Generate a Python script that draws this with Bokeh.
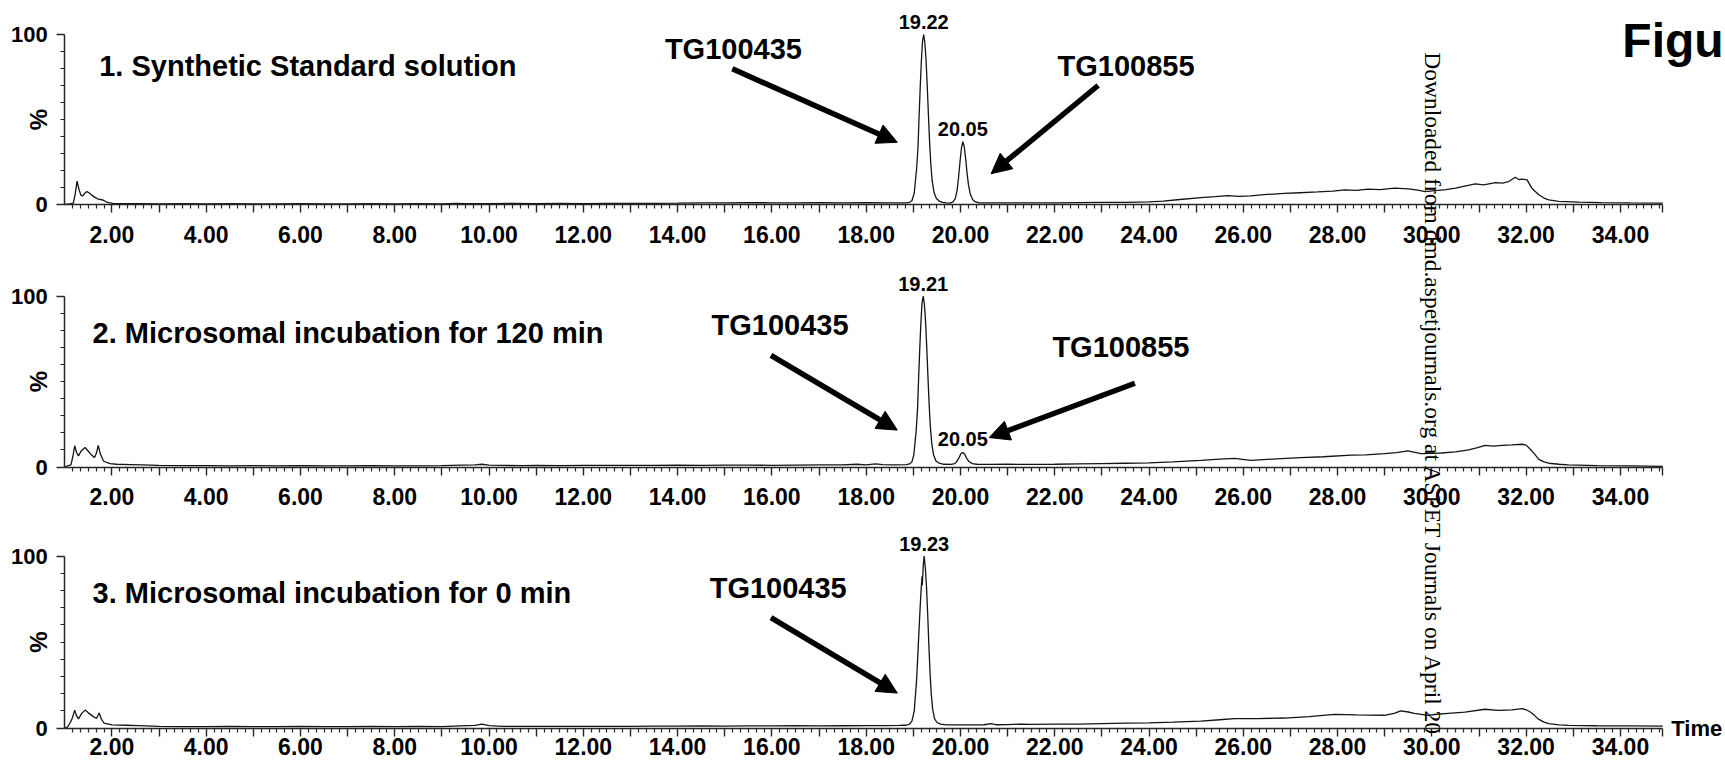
from math import pi
from bokeh.plotting import figure
from bokeh.models import (Range1d, FixedTicker, CustomJSTickFormatter, Label, Arrow, NormalHead,
                          LinearAxis)
from bokeh.embed import file_html
from bokeh.resources import INLINE

# ---------------- data ----------------
panel_titles = ["1. Synthetic Standard solution",
                "2. Microsomal incubation for 120 min",
                "3. Microsomal incubation for 0 min"]
compound_names = ["TG100435", "TG100855"]
y_axis_label = "%"
x_axis_label = "Time"
figure_label = "Figu"
watermark = "Downloaded from dmd.aspetjournals.org at ASPET Journals on April 20"

# panel 1 : synthetic standard
time_1 = [1.00, 1.10, 1.18, 1.22, 1.26, 1.30, 1.34, 1.38, 1.43, 1.47, 1.52, 1.57, 1.64, 1.71, 1.78, 1.82, 1.88, 1.93, 2.02,
          2.2, 2.6, 3.0, 3.5, 4.0, 4.5, 5.0, 5.5, 6.0, 6.5, 7.0, 7.5, 8.0, 8.5, 9.0, 9.3, 9.5, 10.0, 10.5, 11.0, 11.5,
          12.0, 12.5, 13.0, 13.5, 14.0, 14.5, 15.0, 15.5, 16.0, 16.5, 17.0, 17.5, 18.0, 18.5,
          18.85, 18.92, 18.97, 19.02, 19.07, 19.10, 19.12, 19.145, 19.17, 19.195, 19.22, 19.245, 19.27, 19.295, 19.32,
          19.345, 19.37, 19.40, 19.44, 19.49, 19.55, 19.62, 19.70, 19.78, 19.84, 19.89, 19.93, 19.96, 19.99, 20.02,
          20.05, 20.08, 20.11, 20.14, 20.17, 20.21, 20.26, 20.32, 20.40,
          20.6, 21.0, 21.5, 22.0, 22.5, 23.0, 23.5, 24.0, 24.3, 24.6, 25.1, 25.4, 25.67, 25.9, 26.16, 26.5, 26.87, 27.2,
          27.58, 27.9, 28.15, 28.4, 28.65, 28.9, 29.21, 29.5, 29.7, 29.86, 30.07, 30.3, 30.5, 30.7, 30.92, 31.1, 31.35,
          31.5, 31.63, 31.77, 31.85, 31.91, 32.02, 32.12, 32.2, 32.27, 32.38, 32.48, 32.69, 33.12, 33.6, 34.2, 34.9]
pct_1 = [0.0, 0.3, 0.8, 6.0, 13.7, 9.0, 5.5, 5.0, 6.8, 7.6, 6.8, 5.5, 4.2, 3.1, 2.8, 2.5, 1.6, 1.1, 0.6,
         0.5, 0.5, 0.4, 0.5, 0.4, 0.5, 0.4, 0.4, 0.5, 0.4, 0.4, 0.5, 0.4, 0.5, 0.4, 0.7, 0.5, 0.5, 0.6, 0.5, 0.6,
         0.5, 0.6, 0.6, 0.7, 0.8, 1.0, 0.9, 1.1, 1.0, 1.0, 1.1, 1.0, 1.1, 1.0,
         1.0, 1.3, 2.2, 6.8, 21, 34, 50, 68, 84, 96, 100, 95, 85, 70, 53,
         37, 24, 14, 7, 3.5, 2.0, 1.2, 0.9, 0.8, 1.5, 3.5, 8.5, 16, 25, 33,
         37, 34, 27, 18.5, 11.5, 6, 2.8, 1.5, 1.0,
         0.9, 0.9, 1.0, 1.0, 1.1, 1.2, 1.3, 1.5, 2.0, 2.8, 4.0, 4.6, 5.2, 4.8, 5.1, 5.9, 6.5, 6.9,
         7.4, 7.9, 8.6, 8.3, 9.0, 8.8, 9.6, 9.2, 8.4, 7.6, 8.2, 8.8, 9.6, 10.8, 12.1, 11.6, 12.9,
         12.6, 13.5, 16.0, 14.6, 14.9, 14.5, 9.6, 7.5, 5.7, 3.8, 2.7, 1.8, 1.4, 1.1, 0.9, 0.8]
peak_rt_1 = [19.22, 20.05]
peak_pct_1 = [100, 37]

# panel 2 : microsomal incubation 120 min
time_2 = [1.00, 1.06, 1.13, 1.17, 1.21, 1.25, 1.29, 1.35, 1.43, 1.49, 1.55, 1.63, 1.67, 1.71, 1.75, 1.82, 1.90, 1.96,
          2.1, 2.4, 2.65, 3.0, 3.5, 4.0, 4.5, 5.0, 5.5, 6.0, 6.5, 7.0, 7.5, 8.0, 8.5, 9.0, 9.4, 9.7, 9.85, 10.0, 10.3,
          10.7, 11.0, 11.5, 12.0, 12.5, 13.0, 13.5, 14.0, 14.5, 15.0, 15.5, 16.0, 16.5, 17.0, 17.5, 17.8, 18.0, 18.2,
          18.35, 18.6,
          18.85, 18.92, 18.97, 19.01, 19.06, 19.09, 19.11, 19.135, 19.16, 19.185, 19.21, 19.235, 19.26, 19.285, 19.31,
          19.335, 19.36, 19.39, 19.43, 19.48, 19.55, 19.65, 19.80, 19.88, 19.93, 19.97, 20.01, 20.05, 20.09, 20.13,
          20.18, 20.25, 20.35,
          20.6, 21.0, 21.5, 22.0, 22.5, 23.0, 23.5, 24.0, 24.5, 25.1, 25.5, 25.81, 26.16, 26.6, 27.22, 27.7, 28.29, 28.6,
          28.99, 29.25, 29.49, 29.77, 30.0, 30.2, 30.5, 30.78, 30.95, 31.13, 31.3, 31.49, 31.7, 31.91, 32.0, 32.09,
          32.18, 32.27, 32.38, 32.48, 32.7, 32.9, 33.5, 34.2, 34.9]
pct_2 = [0.0, 0.6, 1.2, 6.0, 12.4, 8.5, 6.5, 9.5, 11.4, 9.5, 7.5, 5.5, 8.0, 12.7, 8.0, 3.5, 2.5, 2.0,
         1.6, 1.4, 1.2, 0.9, 0.8, 0.8, 0.7, 0.8, 0.7, 0.8, 0.7, 0.7, 0.8, 0.7, 0.7, 0.8, 1.1, 1.2, 1.6, 1.1, 0.9,
         0.8, 0.9, 0.8, 0.9, 0.9, 1.0, 1.0, 1.1, 1.0, 1.1, 1.1, 1.0, 1.1, 1.2, 1.2, 1.6, 1.3, 1.8,
         1.4, 1.3,
         1.4, 1.8, 3.0, 7.0, 21, 34, 50, 68, 84, 96, 100, 95, 85, 70, 53,
         37, 24, 14, 7, 3.5, 2.2, 1.6, 1.5, 2.0, 3.5, 5.5, 7.8, 8.5, 7.5, 5.2,
         3.2, 2.0, 1.6,
         1.5, 1.6, 1.5, 1.6, 1.8, 2.0, 2.2, 2.4, 3.0, 3.9, 4.6, 5.1, 3.9, 4.6, 5.5, 6.0, 6.9, 7.1,
         7.8, 8.4, 9.4, 7.8, 8.0, 8.2, 8.9, 10.0, 11.2, 12.7, 12.2, 12.7, 12.9, 13.3, 12.8, 10.4,
         7.5, 4.5, 3.0, 2.2, 1.6, 1.2, 0.8, 0.6, 0.4]
peak_rt_2 = [19.21, 20.05]
peak_pct_2 = [100, 8.5]

# panel 3 : microsomal incubation 0 min
time_3 = [1.00, 1.06, 1.10, 1.15, 1.21, 1.25, 1.29, 1.36, 1.43, 1.50, 1.59, 1.67, 1.70, 1.73, 1.77, 1.83, 2.00,
          2.3, 2.57, 3.0, 3.5, 4.0, 4.5, 5.0, 5.5, 6.0, 6.5, 7.0, 7.5, 8.0, 8.5, 9.0, 9.4, 9.7, 9.85, 10.0, 10.3, 10.7,
          11.0, 11.5, 12.0, 12.5, 13.0, 13.5, 14.0, 14.5, 15.0, 15.5, 16.0, 16.5, 17.0, 17.5, 18.0, 18.4, 18.7,
          18.85, 18.92, 18.97, 19.02, 19.07, 19.10, 19.13, 19.16, 19.185, 19.19, 19.21, 19.23, 19.255, 19.28, 19.305,
          19.33, 19.355, 19.38, 19.41, 19.45, 19.50, 19.58, 19.70,
          20.0, 20.5, 20.65, 20.75, 21.0, 21.3, 21.5, 22.0, 22.5, 23.0, 23.5, 24.0, 24.5, 25.1, 25.5, 25.81, 26.3, 26.87,
          27.4, 27.93, 28.4, 28.99, 29.2, 29.34, 29.5, 29.63, 29.92, 30.1, 30.35, 30.7, 31.13, 31.4, 31.7, 31.91, 32.0,
          32.09, 32.18, 32.27, 32.38, 32.48, 32.7, 32.9, 33.5, 34.2, 34.9]
pct_3 = [0.0, 0.6, 2.5, 5.0, 10.4, 7.0, 5.3, 8.5, 10.4, 8.8, 6.9, 5.5, 7.0, 8.8, 5.5, 2.9, 1.8,
         1.6, 1.4, 0.9, 0.8, 0.8, 0.9, 0.8, 0.8, 0.9, 0.8, 0.8, 0.9, 0.8, 0.9, 0.8, 1.2, 1.5, 2.3, 1.4, 1.0, 0.9,
         1.0, 0.9, 1.0, 1.0, 1.0, 1.1, 1.1, 1.2, 1.1, 1.2, 1.2, 1.3, 1.2, 1.3, 1.4, 1.4, 1.5,
         1.6, 2.2, 4.0, 10, 28, 45, 62, 78, 88, 83, 94, 100, 93, 82, 66,
         48, 32, 20, 11, 5.5, 3.2, 2.2, 1.8,
         1.8, 1.9, 2.5, 1.9, 2.0, 2.3, 2.1, 2.2, 2.3, 2.6, 2.8, 3.0, 3.4, 4.0, 4.8, 5.4, 5.5, 5.8,
         6.6, 7.9, 7.6, 7.4, 8.5, 9.9, 9.3, 8.5, 7.4, 8.0, 8.5, 9.2, 10.9, 10.2, 10.5, 11.3, 10.6,
         9.3, 7.2, 5.0, 3.4, 2.5, 1.8, 1.5, 1.3, 1.2, 1.1]
peak_rt_3 = [19.23]
peak_pct_3 = [100]

for a, b in ((time_1, pct_1), (time_2, pct_2), (time_3, pct_3)):
    assert len(a) == len(b), (len(a), len(b))

# ---------------- layout / styling ----------------
SANS = "Liberation Sans"
SERIF = "Liberation Serif"
W, H = 1725, 765            # canvas (the page template has no body margin)
PXM = 47.14                 # pixels per minute
X_START, X_END = 1.0, 34.9  # extent of the time axis
xs = X_START - 64.3 / PXM   # frame covers the whole canvas
xe = xs + W / PXM
major_x = [float(m) for m in range(2, 35)] + [X_END]
minor_x = [1 + k / 6 for k in range(1, 210) if k % 6 and 1 + k / 6 < X_END - 0.01]

# annotation placements (x in minutes, y in % of each panel; y = vertical centre of text)
panels = [
    dict(t=time_1, v=pct_1, rt=peak_rt_1, pk=peak_pct_1, zero=204, scale=1.70, standoff=13,
         title=(1.73, 81.2), tg=[(13.73, 91.6), (22.06, 81.6)],
         arrows=[((15.16, 79.8), (18.66, 36.6)), ((22.92, 70.0), (20.65, 18.1))],
         peak_label_y=[107.5, 44.2]),
    dict(t=time_2, v=pct_2, rt=peak_rt_2, pk=peak_pct_2, zero=466.5, scale=1.71, standoff=13,
         title=(1.59, 78.4), tg=[(14.72, 82.8), (21.95, 70.0)],
         arrows=[((15.98, 65.3), (18.66, 21.6)), ((23.70, 49.0), (20.61, 17.2))],
         peak_label_y=[107.3, 16.5]),
    dict(t=time_3, v=pct_3, rt=peak_rt_3, pk=peak_pct_3, zero=727.5, scale=1.72, standoff=2,
         title=(1.59, 78.7), tg=[(14.68, 81.2)],
         arrows=[((15.98, 64.2), (18.66, 20.3))],
         peak_label_y=[107.0]),
]


def yrange(cfg):
    return Range1d(-(H - cfg["zero"]) / cfg["scale"], cfg["zero"] / cfg["scale"])


p = figure(width=W, height=H, x_range=Range1d(xs, xe), y_range=yrange(panels[0]),
           x_axis_type=None, y_axis_type=None, output_backend="svg", toolbar_location=None,
           min_border=0, min_border_left=0, min_border_right=0, min_border_top=0, min_border_bottom=0,
           outline_line_color=None, background_fill_color="white", border_fill_color="white")
p.grid.visible = False
p.extra_y_ranges = {"p2": yrange(panels[1]), "p3": yrange(panels[2])}
range_names = ["default", "p2", "p3"]

AX = "#262626"


def style_axis(ax, size):
    ax.axis_line_color = AX
    ax.axis_line_width = 1.5
    ax.major_tick_line_color = AX
    ax.minor_tick_line_color = AX
    ax.major_tick_line_width = 1.4
    ax.minor_tick_line_width = 1.2
    ax.major_tick_in = 0
    ax.minor_tick_in = 0
    ax.major_tick_out = 8
    ax.minor_tick_out = 4
    ax.major_label_text_font = SANS
    ax.major_label_text_font_style = "bold"
    ax.major_label_text_font_size = size
    ax.major_label_text_color = "black"


for i, cfg in enumerate(panels):
    rn = range_names[i]

    xa = LinearAxis(y_range_name=rn, fixed_location=0, bounds=(X_START, X_END),
                    ticker=FixedTicker(ticks=major_x, minor_ticks=minor_x),
                    formatter=CustomJSTickFormatter(
                        code="return (Math.abs(tick - 2*Math.round(tick/2)) < 1e-6) ? tick.toFixed(2) : '';"))
    style_axis(xa, "23px")
    xa.major_label_standoff = cfg["standoff"]
    p.add_layout(xa, "below")

    ya = LinearAxis(y_range_name=rn, fixed_location=X_START, bounds=(0, 100),
                    ticker=FixedTicker(ticks=[0, 100], minor_ticks=[10, 20, 30, 40, 50, 60, 70, 80, 90]))
    style_axis(ya, "22px")
    ya.major_label_standoff = 9
    p.add_layout(ya, "left")

    # chromatogram trace
    p.line(cfg["t"], cfg["v"], y_range_name=rn, line_color="#141414", line_width=1.3)

    def lab(x, y, text, size, **kw):
        opts = dict(text_font=SANS, text_font_style="bold", text_color="black",
                    text_align="left", text_baseline="middle", y_range_name=rn)
        opts.update(kw)
        p.add_layout(Label(x=x, y=y, text=text, text_font_size=size, **opts))

    lab(0.442, 50, y_axis_label, "24px", angle=pi / 2, text_align="center")
    lab(cfg["title"][0], cfg["title"][1], panel_titles[i], "29px")
    for name, (x, y) in zip(compound_names, cfg["tg"]):
        lab(x, y, name, "29px")
    for (x0, y0), (x1, y1) in cfg["arrows"]:
        p.add_layout(Arrow(end=NormalHead(size=20, fill_color="black", line_color="black", line_width=1),
                           x_start=x0, y_start=y0, x_end=x1, y_end=y1, y_range_name=rn,
                           line_color="black", line_width=5.5))
    for rt, ly in zip(cfg["rt"], cfg["peak_label_y"]):
        lab(rt, ly, f"{rt:.2f}", "20px", text_align="center")

    if i == 0:
        lab(34.04, 96.5, figure_label, "48px")
        # watermark running down the whole page
        lab(30.03, (cfg["zero"] - 51.7) / cfg["scale"], watermark, "23.5px", text_font=SERIF,
            text_font_style="normal", angle=-pi / 2)
    if i == 2:
        lab(35.08, 0, x_axis_label, "22px")

open("out.html", "w").write(file_html(p, INLINE))
